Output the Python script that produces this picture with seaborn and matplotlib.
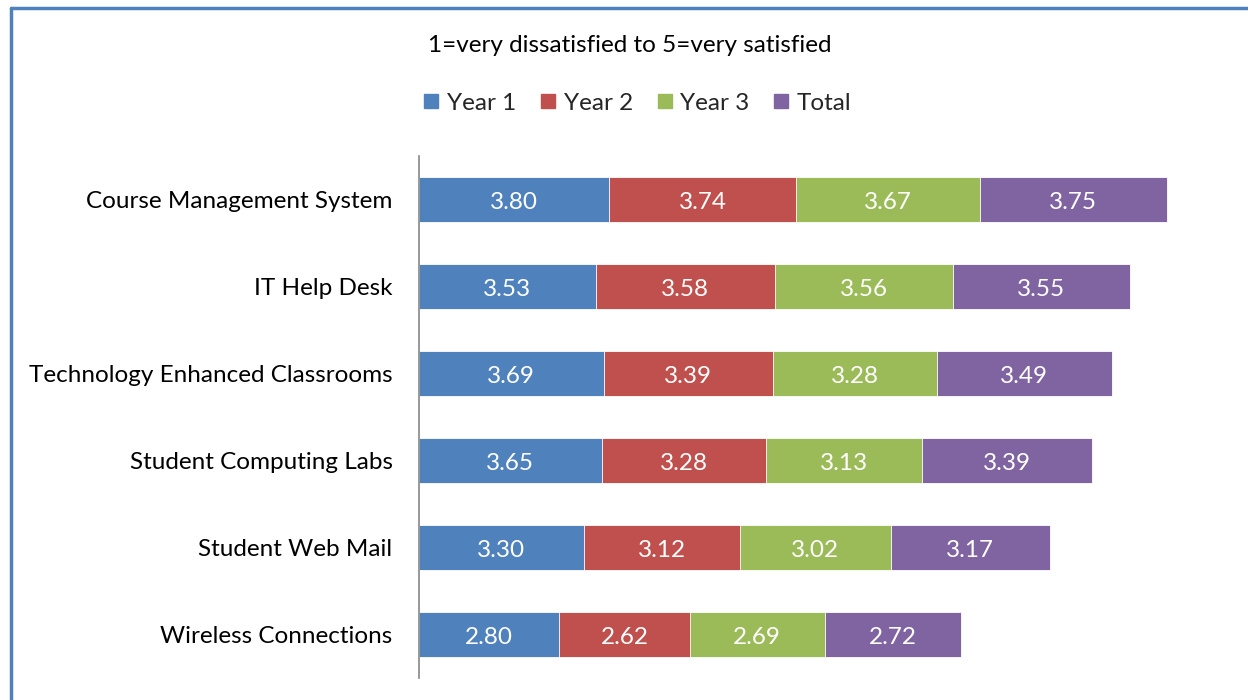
import matplotlib
matplotlib.use("Agg")
import matplotlib.pyplot as plt
from matplotlib.lines import Line2D
import seaborn as sns
import pandas as pd
import numpy as np

categories = ["Course Management System", "IT Help Desk", "Technology Enhanced Classrooms",
              "Student Computing Labs", "Student Web Mail", "Wireless Connections"]
series = ["Year 1", "Year 2", "Year 3", "Total"]
year1 = [3.80, 3.53, 3.69, 3.65, 3.30, 2.80]
year2 = [3.74, 3.58, 3.39, 3.28, 3.12, 2.62]
year3 = [3.67, 3.56, 3.28, 3.13, 3.02, 2.69]
total = [3.75, 3.55, 3.49, 3.39, 3.17, 2.72]
subtitle = "1=very dissatisfied to 5=very satisfied"

colors = ["#4F81BD", "#C0504D", "#9BBB59", "#8064A2"]

sns.set_theme(style="white")
plt.rcParams['font.family'] = ['Lato', 'DejaVu Sans']
FS = 17.5

values = np.array([year1, year2, year3, total])
cum = np.cumsum(values, axis=0)

fig = plt.figure(figsize=(12.48, 7.0), dpi=100)
ax = fig.add_axes([419/1248, 1 - 678/700, 780/1248, 522/700])

# draw cumulative bars from the longest to the shortest so they stack
for i in range(len(series) - 1, -1, -1):
    df = pd.DataFrame({"category": categories, "value": cum[i]})
    sns.barplot(data=df, y="category", x="value", orient="h", color=colors[i],
                saturation=1, width=0.51, edgecolor="white", linewidth=0.6, ax=ax)

for i in range(len(series)):
    for j in range(len(categories)):
        center = cum[i][j] - values[i][j] / 2
        ax.text(center, j + 0.03, f"{values[i][j]:.2f}", ha="center", va="center",
                color="white", fontsize=FS)

ax.set_xlim(0, 15.6)
ax.set_ylim(5.5, -0.5)
ax.set_xlabel("")
ax.set_ylabel("")
ax.set_xticks([])
for s in ["top", "right", "bottom"]:
    ax.spines[s].set_visible(False)
ax.spines["left"].set_color("#868686")
ax.spines["left"].set_linewidth(1.2)
ax.tick_params(axis="y", length=0, pad=19, labelsize=FS, labelcolor="black")
for lbl in ax.get_yticklabels():
    lbl.set_va("center_baseline")

fig.text(630/1248, 1 - 46/700, subtitle, ha="center", va="center", fontsize=FS, color="black")

handles = [Line2D([0], [0], marker="s", linestyle="", markersize=10.5,
                  markerfacecolor=c, markeredgecolor=c) for c in colors]
fig.legend(handles, series, loc="center", bbox_to_anchor=(636/1248, 1 - 103/700),
           ncol=4, frameon=False, fontsize=FS, handletextpad=0.2,
           columnspacing=0.85, handlelength=0.9)

# outer frame (cut off at right and bottom)
fig.add_artist(Line2D([11/1248, 1.0], [1 - 8/700, 1 - 8/700], transform=fig.transFigure,
                      color="#4F81BD", linewidth=2.5))
fig.add_artist(Line2D([11/1248, 11/1248], [1 - 8/700, 0.0], transform=fig.transFigure,
                      color="#4F81BD", linewidth=2.5))

fig.savefig("out.png", dpi=100)
